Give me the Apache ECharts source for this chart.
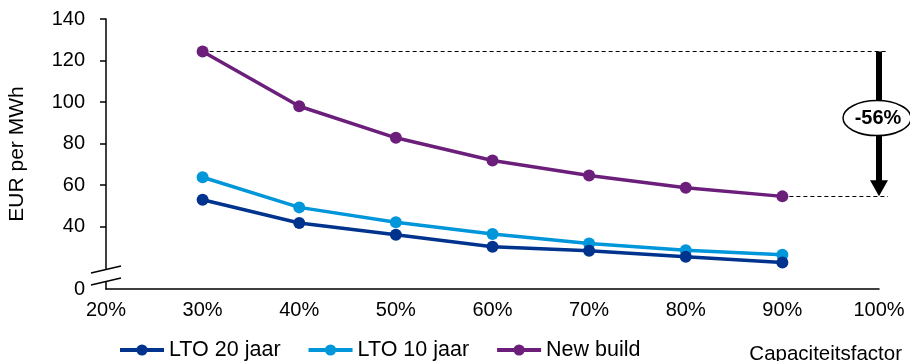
<!DOCTYPE html>
<html>
<head>
<meta charset="utf-8">
<script src="https://cdn.jsdelivr.net/npm/echarts@6/dist/echarts.min.js"></script>
<style>
html,body{margin:0;padding:0;background:#fff;}
#chart{width:910px;height:361px;}
</style>
</head>
<body>
<div id="chart"></div>
<script>
// capacity factor (%)
var capacity = [30, 40, 50, 60, 70, 80, 90];
var lto20 = [53.0, 41.8, 36.1, 30.3, 28.4, 25.5, 22.8];
var lto10 = [63.8, 49.3, 42.1, 36.5, 31.9, 28.7, 26.5];
var newBuild = [124.4, 98.0, 82.8, 71.9, 64.6, 58.7, 54.6];
var yTicks = [10, 40, 60, 80, 100, 120, 140]; // 10 = broken-axis position of "0"
var xTicks = [20, 30, 40, 50, 60, 70, 80, 90, 100];
var seriesNames = ['LTO 20 jaar', 'LTO 10 jaar', 'New build'];
var colors = ['#00338D', '#0096DA', '#6B1F7B'];

var FONT = 'Liberation Sans, Arial, sans-serif';
function pairs(arr){ return capacity.map(function(c,i){ return [c, arr[i]]; }); }

var chart = echarts.init(document.getElementById('chart'), null, {renderer:'canvas'});
var mkSeries = function(name, data, color, z){
  return {
    name: name, type: 'line', data: pairs(data), z: z,
    symbol: 'circle', symbolSize: 12,
    itemStyle: {color: color},
    lineStyle: {color: color, width: 3.5},
    emphasis: {disabled: true},
    animation: false
  };
};
var option = {
  animation: false,
  textStyle: {fontFamily: FONT},
  grid: {left: 106, right: 31, top: 19, bottom: 72, containLabel: false, outerBoundsMode: 'none'},
  legend: {
    left: 113, bottom: 0, padding: [0, 5, 0, 5], itemWidth: 44, itemHeight: 14, itemGap: 26,
    lineStyle: {width: 4},
    textStyle: {fontFamily: FONT, fontSize: 21.5, color: '#000'},
    data: seriesNames
  },
  xAxis: {
    type: 'value', min: 20, max: 100, interval: 10,
    name: 'Capaciteitsfactor', nameLocation: 'end', nameGap: 23,
    nameTextStyle: {fontFamily: FONT, fontSize: 20.5, color: '#000', align: 'right', verticalAlign: 'top', padding: [55, 0, 0, 0]},
    axisLine: {lineStyle: {color: '#000', width: 1.5}},
    axisTick: {show: false},
    splitLine: {show: false},
    axisLabel: {color: '#000', fontSize: 20, fontFamily: FONT, margin: 11, formatter: '{value}%',
      customValues: xTicks}
  },
  yAxis: {
    type: 'value', min: 10, max: 140,
    name: 'EUR per MWh', nameLocation: 'middle', nameGap: 78, nameRotate: 90,
    nameTextStyle: {fontFamily: FONT, fontSize: 21, color: '#000'},
    axisLine: {show: true, lineStyle: {color: '#000', width: 1.5}},
    axisTick: {show: true, inside: false, length: 6, lineStyle: {color: '#000', width: 1.5}, customValues: yTicks.slice(1)},
    splitLine: {show: false},
    axisLabel: {color: '#000', fontSize: 20, fontFamily: FONT, margin: 21,
      customValues: yTicks,
      formatter: function(v){ return v === 10 ? '0' : String(v); }}
  },
  series: [
    mkSeries(seriesNames[0], lto20, colors[0], 3),
    mkSeries(seriesNames[1], lto10, colors[1], 2),
    mkSeries(seriesNames[2], newBuild, colors[2], 4)
  ]
};
chart.setOption(option);

// annotations: dashed reference lines, arrow and percentage ellipse, axis break marks
var pStart = chart.convertToPixel({gridIndex: 0}, [capacity[0], newBuild[0]]);
var pEnd = chart.convertToPixel({gridIndex: 0}, [capacity[capacity.length-1], newBuild[newBuild.length-1]]);
var pAxisEnd = chart.convertToPixel({gridIndex: 0}, [100, 10]);
var pOrigin = chart.convertToPixel({gridIndex: 0}, [20, 10]);
var ax = pAxisEnd[0];
var dashEnd = ax + 9;
var pct = Math.round((newBuild[newBuild.length-1] / newBuild[0] - 1) * 100);
var midY = pStart[1] + (pEnd[1] - pStart[1]) * 0.46;
var y1 = Math.round(pStart[1]) + 0.5, y2 = Math.round(pEnd[1]) + 0.5;
var dash = {stroke: '#000', lineWidth: 1, lineDash: [4, 3]};
var bx = pOrigin[0], by = pOrigin[1];
chart.setOption({
  graphic: [
    {type: 'line', silent: true, z: 1, shape: {x1: pStart[0], y1: y1, x2: dashEnd, y2: y1}, style: dash},
    {type: 'line', silent: true, z: 1, shape: {x1: pEnd[0], y1: y2, x2: dashEnd, y2: y2}, style: dash},
    {type: 'line', silent: true, z: 5, shape: {x1: ax, y1: pStart[1], x2: ax, y2: pEnd[1] - 14}, style: {stroke: '#000', lineWidth: 6}},
    {type: 'polygon', silent: true, z: 5, shape: {points: [[ax - 9, pEnd[1] - 16], [ax + 9, pEnd[1] - 16], [ax, pEnd[1]]]}, style: {fill: '#000'}},
    {type: 'ellipse', silent: true, z: 6, shape: {cx: ax - 2, cy: midY, rx: 34, ry: 17.5}, style: {fill: '#fff', stroke: '#000', lineWidth: 1.5}},
    {type: 'text', silent: true, z: 7, x: ax - 1, y: midY, style: {text: pct + '%', fontFamily: FONT, fontWeight: 'bold', fontSize: 20, fill: '#000', align: 'center', verticalAlign: 'middle'}},
    {type: 'line', silent: true, z: 8, shape: {x1: bx - 15, y1: by - 16, x2: bx + 15, y2: by - 23}, style: {stroke: '#000', lineWidth: 1.5}},
    {type: 'line', silent: true, z: 8, shape: {x1: bx - 15, y1: by - 4, x2: bx + 15, y2: by - 11}, style: {stroke: '#000', lineWidth: 1.5}},
    {type: 'rect', silent: true, z: 7, shape: {x: bx - 2, y: by - 19, width: 4, height: 11}, style: {fill: '#fff'}}
  ]
});
</script>
</body>
</html>
